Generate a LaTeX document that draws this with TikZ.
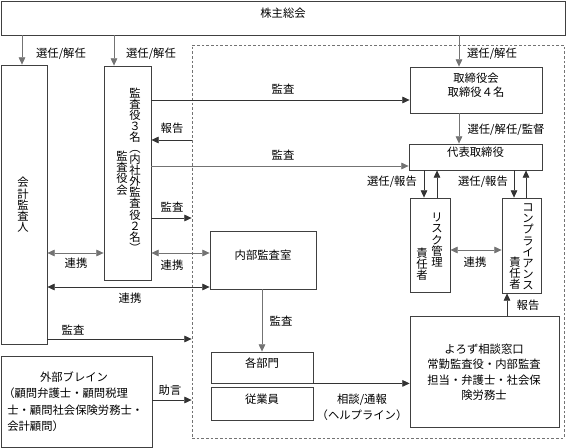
\documentclass[tikz,border=0pt]{standalone}
\usepackage{fontspec}
\setmainfont{Noto Sans CJK JP}
\usetikzlibrary{arrows.meta,fit}
\begin{document}
\begin{tikzpicture}[x=0.75pt,y=-0.75pt,
  box/.style={draw=black!75, line width=0.6pt, inner sep=0pt, font=\fontsize{8.5}{11}\selectfont},
  grpbox/.style={draw=black!55, line width=0.6pt, dash pattern=on 2pt off 1.5pt, inner sep=0pt},
  lbl/.style={font=\fontsize{8.5}{10}\selectfont, inner sep=0pt},
  vt/.style={font=\fontsize{8.5}{8.4}\selectfont, align=center, inner sep=0pt},
  tip/.tip={Triangle[length=5.5pt,width=5pt]},
  arr/.style={line width=0.6pt, draw=black!80, -tip},
  garr/.style={arr, draw=black!55},
  darr/.style={line width=0.6pt, draw=black!55, tip-tip},
  bdarr/.style={line width=0.6pt, draw=black!80, tip-tip}
]
\useasboundingbox (0,0) rectangle (566,448);

% group (dashed)
\node[grpbox, fit={(192,45) (564,438)}] (grp) {};

% boxes
\node[box, fit={(1,1) (565,35)}] (agm) {株主総会};
\node[box, fit={(1,65) (47,344)}] (auditor) {};
\node[box, fit={(104,66) (151,280)}] (kansa) {};
\node[box, fit={(410,67) (542,113)}, align=center] (board) {取締役会\\取締役４名};
\node[box, fit={(409,144) (542,170)}] (rep) {代表取締役};
\node[box, fit={(410,198) (450,292)}] (risk) {};
\node[box, fit={(502,198) (541,293)}] (comp) {};
\node[box, fit={(210,231) (316,289)}] (naibu) {内部監査室};
\node[box, fit={(211,352) (313,383)}] (bumon) {各部門};
\node[box, fit={(211,387) (313,420)}] (jugyo) {従業員};
\node[box, fit={(410,316) (559,427)}] (yorozu) {};
\node[box, fit={(1,356) (152,447)}] (gaibu) {};

% vertical texts
\node[vt] (tauditor) at (23,205) {会\\計\\監\\査\\人};
\node[vt, font=\fontsize{8.5}{8.3}\selectfont] (tkansa1) at (135,170) {監\\査\\役\\３\\名\\︵\\内\\社\\外\\監\\査\\役\\２\\名\\︶};
\node[vt] (tkansa2) at (122,173) {監\\査\\役\\会};
\node[vt] (trisk1) at (437,240) {リ\\ス\\ク\\管\\理};
\node[vt] (trisk2) at (422,264) {責\\任\\者};
\node[vt] (tcomp1) at (528,247) {コ\\ン\\プ\\ラ\\イ\\ア\\ン\\ス};
\node[vt] (tcomp2) at (515,273) {責\\任\\者};

% box texts
\node[lbl, font=\fontsize{8.5}{11.6}\selectfont, align=center] (tyorozu) at (484,372) {よろず相談窓口\\常勤監査役・内部監査\\担当・弁護士・社会保\\険労務士};
\node[lbl] (tgaibu1) at (74,377) {外部ブレイン};
\node[lbl, anchor=west] (tgaibu2) at (3,393) {（顧問弁護士・顧問税理};
\node[lbl, anchor=west] (tgaibu3) at (7,410) {士・顧問社会保険労務士・};
\node[lbl, anchor=west] (tgaibu4) at (7,426) {会計顧問）};

% connectors
\draw[garr] (agm.south -| 22,0) -- (auditor.north -| 22,0);
\draw[garr] (agm.south -| 114,0) -- (kansa.north -| 114,0);
\draw[garr] (agm.south -| 459,0) -- (board.north -| 459,0);
\draw[arr] (kansa.east |- 0,100) -- (board.west |- 0,100);
\draw[arr] (grp.west |- 0,140) -- (kansa.east |- 0,140);
\draw[garr] (kansa.east |- 0,166) -- (rep.west |- 0,166);
\draw[arr] (kansa.east |- 0,218) -- (grp.west |- 0,218);
\draw[darr] (auditor.east |- 0,253) -- (kansa.west |- 0,253);
\draw[darr] (kansa.east |- 0,253) -- (naibu.west |- 0,253);
\draw[bdarr] (auditor.east |- 0,287) -- (naibu.west |- 0,287);
\draw[arr] (auditor.east |- 0,339) -- (grp.west |- 0,339);
\draw[arr] (gaibu.east |- 0,400) -- (grp.west |- 0,400);
\draw[garr] (naibu.south -| 262,0) -- (bumon.north -| 262,0);
\draw[arr] (bumon.south east) -- (yorozu.west |- bumon.south east);
\draw[garr] (board.south -| 459,0) -- (rep.north -| 459,0);
\draw[arr] (rep.south -| 424,0) -- (risk.north -| 424,0);
\draw[arr] (risk.north -| 437,0) -- (rep.south -| 437,0);
\draw[arr] (rep.south -| 514,0) -- (comp.north -| 514,0);
\draw[arr] (comp.north -| 526,0) -- (rep.south -| 526,0);
\draw[darr] (risk.east |- 0,250) -- (comp.west |- 0,250);
\draw[arr] (yorozu.north -| 507,0) -- (comp.south -| 507,0);

% labels
\node[lbl] (l1) at (61,54) {選任/解任};
\node[lbl] (l2) at (151,54) {選任/解任};
\node[lbl] (l3) at (492,54) {選任/解任};
\node[lbl] (l4) at (283,89) {監査};
\node[lbl] (l5) at (172,128) {報告};
\node[lbl] (l6) at (283,155) {監査};
\node[lbl] (l7) at (172,207) {監査};
\node[lbl] (l8) at (76,263) {連携};
\node[lbl] (l9) at (172,265) {連携};
\node[lbl] (l10) at (130,298) {連携};
\node[lbl] (l11) at (73,330) {監査};
\node[lbl] (l12) at (170,390) {助言};
\node[lbl] (l13) at (281,321) {監査};
\node[lbl] (l14) at (506,130) {選任/解任/監督};
\node[lbl] (l15) at (392,182) {選任/報告};
\node[lbl] (l16) at (483,182) {選任/報告};
\node[lbl] (l17) at (475,262) {連携};
\node[lbl] (l18) at (528,305) {報告};
\node[lbl] (l19) at (362,400) {相談/通報};
\node[lbl] (l20) at (362,415) {（ヘルプライン）};
\end{tikzpicture}
\end{document}
